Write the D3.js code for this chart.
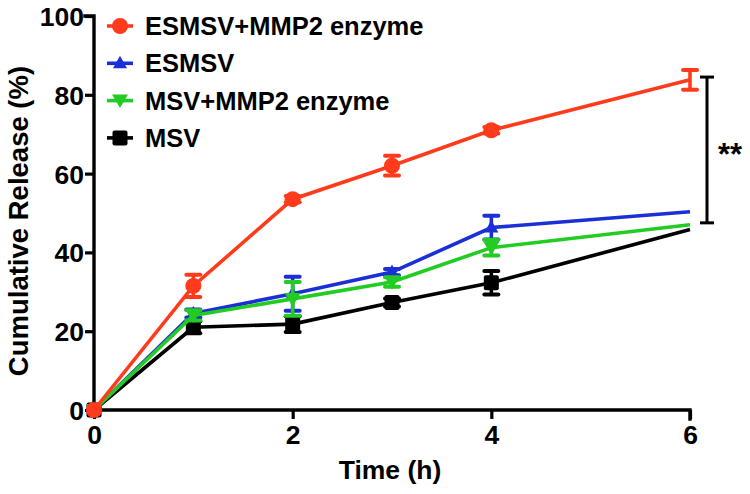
<!DOCTYPE html>
<html><head><meta charset="utf-8">
<script src="https://cdn.jsdelivr.net/npm/d3@7"></script>
<style>
html,body{margin:0;padding:0;background:#fff;}
text{font-family:"Liberation Sans",Arial,Helvetica,sans-serif;font-weight:bold;}
</style></head>
<body><svg id="chart" width="750" height="494"></svg>
<script>
const times = [0, 1, 2, 3, 4, 6];
const seriesNames = ["ESMSV+MMP2 enzyme", "ESMSV", "MSV+MMP2 enzyme", "MSV"];
const seriesColors = ["#ff3b1c", "#1a2fd6", "#22cc22", "#000000"];
const seriesSymbols = ["circle", "triangleUp", "triangleDown", "square"];
const esmsvMmp2 = [0, 31.5, 53.5, 62, 71, 83.8];
const esmsvMmp2Err = [0, 2.8, 0.8, 2.5, 0.8, 2.5];
const esmsv = [0, 24.5, 29.5, 35, 46.3, 50.3];
const esmsvErr = [0, 1, 4.3, 0.8, 3, 0];
const msvMmp2 = [0, 24, 28.2, 32.5, 41.2, 47];
const msvMmp2Err = [0, 1.3, 4.3, 1.2, 2, 0];
const msv = [0, 21, 21.8, 27.3, 32.3, 45.8];
const msvErr = [0, 1.5, 2, 1, 3, 0];
const xTicks = [0, 2, 4, 6];
const yTicks = [0, 20, 40, 60, 80, 100];
const sigRange = [47.5, 84.5];
const sigLabel = "**";

const values = [esmsvMmp2, esmsv, msvMmp2, msv];
const errors = [esmsvMmp2Err, esmsvErr, msvMmp2Err, msvErr];

const svg = d3.select("#chart");
const x = d3.scaleLinear().domain([0, 6]).range([94, 690]);
const y = d3.scaleLinear().domain([0, 100]).range([410, 16]);

// axes
const xAxis = svg.append("g").attr("transform", `translate(0,${y(0)})`)
  .call(d3.axisBottom(x).tickValues(xTicks).tickSize(9).tickPadding(5).tickFormat(d3.format("d")));
const yAxis = svg.append("g").attr("transform", `translate(${x(0)},0)`)
  .call(d3.axisLeft(y).tickValues(yTicks).tickSize(9).tickPadding(1).tickFormat(d3.format("d")));
[xAxis, yAxis].forEach(g => {
  g.select(".domain").attr("stroke", "#000").attr("stroke-width", 3.4).attr("stroke-linecap", "square");
  g.selectAll(".tick line").attr("stroke", "#000").attr("stroke-width", 3.2);
  g.selectAll(".tick text").attr("fill", "#000").style("font-size", "26.5px")
   .style("font-family", "'Liberation Sans', Arial, sans-serif").style("font-weight", "bold");
});
xAxis.selectAll(".domain").attr("d", `M${x(0)},0H${x(6)}V9`);
xAxis.selectAll(".tick text").attr("dy", "0.75em");
yAxis.selectAll(".tick text").attr("dy", "0.36em");
yAxis.select(".domain").attr("d", `M-9,${y(100)}H0V${y(0)}`);

svg.append("text").attr("x", (x(0) + x(6)) / 2 - 2).attr("y", 479).attr("text-anchor", "middle")
  .style("font-size", "26.5px").text("Time (h)");
svg.append("text").attr("transform", `translate(28,${(y(0)+y(100))/2 + 8}) rotate(-90)`)
  .attr("text-anchor", "middle").style("font-size", "27.5px").text("Cumulative Release (%)");

function drawSymbol(g, type, cx, cy, color) {
  if (type === "circle") {
    g.append("circle").attr("cx", cx).attr("cy", cy).attr("r", 8).attr("fill", color);
  } else if (type === "square") {
    g.append("rect").attr("x", cx - 7.5).attr("y", cy - 7.5).attr("width", 15).attr("height", 15)
      .attr("rx", 2).attr("fill", color);
  } else if (type === "triangleUp") {
    g.append("path").attr("d", `M${cx},${cy-7.5}L${cx+7},${cy+5}L${cx-7},${cy+5}Z`).attr("fill", color);
  } else {
    g.append("path").attr("d", `M${cx},${cy+7.5}L${cx+8},${cy-6}L${cx-8},${cy-6}Z`).attr("fill", color);
  }
}

const line = d3.line().x((d, i) => x(times[i])).y(d => y(d));
const drawOrder = [3, 1, 2, 0];
drawOrder.forEach(s => {
  const g = svg.append("g");
  const color = seriesColors[s];
  g.append("path").datum(values[s]).attr("d", line).attr("fill", "none")
    .attr("stroke", color).attr("stroke-width", 3.6);
  values[s].forEach((v, i) => {
    const e = errors[s][i];
    if (e > 0) {
      const cx = x(times[i]);
      g.append("line").attr("x1", cx).attr("x2", cx).attr("y1", y(v - e)).attr("y2", y(v + e))
        .attr("stroke", color).attr("stroke-width", 3.6);
      [v - e, v + e].forEach(t => g.append("line").attr("x1", cx - 7).attr("x2", cx + 7)
        .attr("y1", y(t)).attr("y2", y(t)).attr("stroke", color).attr("stroke-width", 4)
        .attr("stroke-linecap", "round"));
    }
    if (times[i] < 6) drawSymbol(g, seriesSymbols[s], x(times[i]), y(v), color);
  });
});

// legend
const legend = svg.append("g");
seriesNames.forEach((name, i) => {
  const ly = 26 + i * 37.3;
  legend.append("line").attr("x1", 107).attr("x2", 133).attr("y1", ly).attr("y2", ly)
    .attr("stroke", seriesColors[i]).attr("stroke-width", 3.6);
  drawSymbol(legend, seriesSymbols[i], 120, ly, seriesColors[i]);
  legend.append("text").attr("x", 145).attr("y", ly).attr("dy", "0.36em")
    .style("font-size", "25.5px").text(name);
});

// significance bracket
const bx = x(6) + 17;
const sig = svg.append("g").attr("stroke", "#000").attr("stroke-width", 3);
sig.append("line").attr("x1", bx).attr("x2", bx).attr("y1", y(sigRange[0])).attr("y2", y(sigRange[1]));
sigRange.forEach(v => sig.append("line").attr("x1", bx - 7).attr("x2", bx + 7).attr("y1", y(v)).attr("y2", y(v)));
svg.append("text").attr("x", bx + 11).attr("y", y((sigRange[0] + sigRange[1]) / 2) + 15)
  .style("font-size", "31px").text(sigLabel);
</script></body></html>
